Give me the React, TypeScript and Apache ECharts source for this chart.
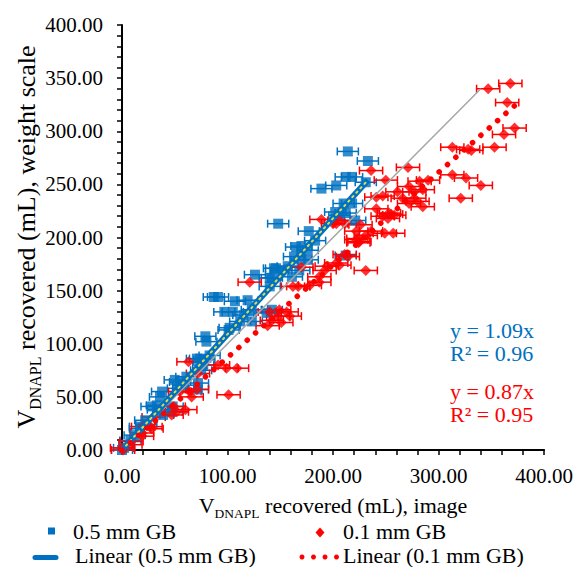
import React, { useEffect, useRef } from "react";
import * as echarts from "echarts";

const X_TICKS = [0, 100, 200, 300, 400];
const Y_TICKS = [0, 50, 100, 150, 200, 250, 300, 350, 400];

const BLUE_NAME = "0.5 mm GB";
const RED_NAME = "0.1 mm GB";
const BLUE_TREND_NAME = "Linear (0.5 mm GB)";
const RED_TREND_NAME = "Linear (0.1 mm GB)";

const BLUE_XERR = 10;
const RED_XERR = 11;

const BLUE_POINTS: number[][] = [
  [0, 0], [2, 2], [8, 9], [12, 14], [17, 20], [17, 22], [22, 28], [23, 24], [28, 41], [33, 42],
  [34, 38], [36, 50], [38, 55], [39, 33], [47, 36], [48, 41], [50, 66], [53, 58], [55, 64], [58, 61],
  [61, 69], [72, 57], [72, 63], [71, 86], [74, 86], [75, 75], [77, 80], [78, 85], [79, 107], [80, 102],
  [83, 89], [87, 144], [91, 144], [97, 130], [102, 115], [105, 130], [107, 140], [101, 113], [112, 121], [115, 127],
  [119, 141], [123, 132], [123, 121], [126, 165], [137, 129], [140, 154], [140, 162], [142, 132], [144, 171], [146, 171],
  [151, 169], [157, 173], [161, 163], [142, 162], [163, 182], [165, 191], [168, 169], [170, 179], [170, 192], [176, 179],
  [176, 188], [177, 206], [183, 197], [148, 213], [189, 246], [202, 224], [206, 221], [210, 232], [212, 183], [212, 223],
  [212, 257], [214, 281], [218, 257], [218, 232], [221, 216], [231, 252], [233, 272], [203, 249],
];

const RED_POINTS: number[][] = [
  [0, 2], [1, 0], [8, 5], [9, 8], [19, 13], [19, 16], [20, 22], [27, 22], [28, 20], [30, 31],
  [47, 33], [49, 41], [52, 36], [60, 38], [55, 55], [64, 55], [66, 50], [71, 57], [63, 83], [72, 72],
  [91, 80], [99, 77], [109, 77], [101, 52], [121, 158], [140, 130], [149, 132], [156, 130], [142, 122], [148, 126],
  [159, 126], [138, 117], [151, 120], [162, 154], [167, 154], [178, 155], [187, 158], [170, 172], [187, 163], [192, 169],
  [194, 173], [203, 176], [206, 174], [211, 184], [214, 182], [231, 169], [189, 217], [200, 213], [203, 213], [206, 216],
  [211, 213], [226, 212], [222, 206], [224, 199], [224, 195], [231, 202], [222, 198], [225, 196], [236, 206], [249, 204],
  [257, 204], [255, 222], [241, 227], [241, 238], [247, 220], [252, 218], [253, 223], [258, 221], [247, 239], [261, 243],
  [266, 237], [272, 248], [272, 232], [277, 243], [277, 237], [280, 234], [285, 245], [285, 229], [282, 253], [290, 254],
  [236, 263], [250, 254], [271, 266], [313, 259], [326, 256], [340, 249], [321, 237], [313, 285], [328, 283], [331, 282],
  [353, 285], [347, 340], [368, 345], [365, 327], [372, 303], [362, 297],
];

const ONE_TO_ONE: number[][] = [[0, 0], [340, 340]];
const BLUE_TREND: number[][] = [[0, 0], [233, 254]];
const RED_TREND: number[][] = [[0, 0], [372, 324]];

const BLUE = "#0070C0";
const RED = "#FF0000";
const FONT = "Liberation Serif";

function errorBarSeries(points: number[][], err: number, color: string) {
  return {
    type: "custom",
    silent: true,
    data: points.map((p) => [p[0], p[1], err]),
    renderItem: (_params: any, api: any) => {
      const x = api.value(0);
      const y = api.value(1);
      const e = api.value(2);
      const a = api.coord([x - e, y]);
      const b = api.coord([x + e, y]);
      const h = 4;
      const st = { stroke: color, lineWidth: 1.5 };
      return {
        type: "group",
        children: [
          { type: "line", shape: { x1: a[0], y1: a[1], x2: b[0], y2: b[1] }, style: st },
          { type: "line", shape: { x1: a[0], y1: a[1] - h, x2: a[0], y2: a[1] + h }, style: st },
          { type: "line", shape: { x1: b[0], y1: b[1] - h, x2: b[0], y2: b[1] + h }, style: st },
        ],
      };
    },
    z: 2,
  };
}

function label(text: string, x: number, y: number, fill: string) {
  return {
    type: "text",
    x,
    y,
    style: { text, fill, fontSize: 22, fontFamily: FONT, verticalAlign: "middle", lineHeight: 22 },
  };
}

export default function App() {
  const ref = useRef<HTMLDivElement>(null);
  useEffect(() => {
    if (!ref.current) return;
    const chart = echarts.init(ref.current, undefined, { renderer: "svg" });
    const axisCommon = {
      axisLine: { show: true, onZero: false, lineStyle: { color: "#000", width: 2 } },
      axisTick: { show: true, length: 5, lineStyle: { color: "#000", width: 1.5 } },
      minorTick: { show: true, splitNumber: 5, length: 5, lineStyle: { color: "#000", width: 1.5 } },
      splitLine: { show: false },
      minorSplitLine: { show: false },
    };
    chart.setOption({
      animation: false,
      backgroundColor: "#fff",
      textStyle: { fontFamily: FONT },
      grid: { left: 122, right: 31, top: 25, bottom: 117 },
      xAxis: {
        type: "value",
        min: X_TICKS[0],
        max: X_TICKS[X_TICKS.length - 1],
        interval: X_TICKS[1] - X_TICKS[0],
        ...axisCommon,
        axisLabel: {
          color: "#000",
          fontSize: 21,
          fontFamily: FONT,
          margin: 15,
          formatter: (v: number) => v.toFixed(2),
        },
      },
      yAxis: {
        type: "value",
        min: Y_TICKS[0],
        max: Y_TICKS[Y_TICKS.length - 1],
        interval: Y_TICKS[1] - Y_TICKS[0],
        ...axisCommon,
        axisLabel: {
          color: "#000",
          fontSize: 21,
          fontFamily: FONT,
          margin: 19,
          formatter: (v: number) => v.toFixed(2),
        },
      },
      series: [
        errorBarSeries(BLUE_POINTS, BLUE_XERR, BLUE),
        {
          name: BLUE_NAME,
          type: "scatter",
          data: BLUE_POINTS,
          symbol: "rect",
          symbolSize: 10,
          itemStyle: { color: BLUE },
          z: 3,
        },
        errorBarSeries(RED_POINTS, RED_XERR, RED),
        {
          name: RED_NAME,
          type: "scatter",
          data: RED_POINTS,
          symbol: "diamond",
          symbolSize: 11,
          itemStyle: { color: RED },
          z: 3,
        },
        {
          type: "line",
          data: ONE_TO_ONE,
          symbol: "none",
          lineStyle: { color: "#A6A6A6", width: 1.5 },
          z: 4,
        },
        {
          name: BLUE_TREND_NAME,
          type: "line",
          data: BLUE_TREND,
          symbol: "none",
          lineStyle: { color: BLUE, width: 6 },
          z: 5,
        },
        {
          type: "line",
          data: BLUE_TREND,
          symbol: "none",
          lineStyle: { color: "#DCDC50", width: 2, type: [1.5, 4.5], cap: "round" },
          z: 6,
        },
        {
          name: RED_TREND_NAME,
          type: "line",
          data: RED_TREND,
          symbol: "none",
          lineStyle: { color: RED, width: 5.5, type: [0.1, 11], cap: "round" },
          z: 6,
        },
      ],
      graphic: [
        {
          type: "text",
          x: 333,
          y: 505,
          style: {
            text: "{v|V}{s|DNAPL}{t| recovered (mL), image}",
            align: "center",
            verticalAlign: "middle",
            fill: "#000",
            rich: {
              v: { fontSize: 22, fontFamily: FONT, lineHeight: 30, verticalAlign: "middle" },
              s: { fontSize: 13.5, fontFamily: FONT, lineHeight: 13, verticalAlign: "bottom" },
              t: { fontSize: 22, fontFamily: FONT, lineHeight: 30, verticalAlign: "middle" },
            },
          },
        },
        {
          type: "text",
          x: 26,
          y: 237,
          rotation: Math.PI / 2,
          style: {
            text: "{v|V}{s|DNAPL}{t| recovered (mL), weight scale}",
            align: "center",
            verticalAlign: "middle",
            fill: "#000",
            rich: {
              v: { fontSize: 26, fontFamily: FONT, lineHeight: 34, verticalAlign: "middle" },
              s: { fontSize: 16, fontFamily: FONT, lineHeight: 15, verticalAlign: "bottom" },
              t: { fontSize: 26, fontFamily: FONT, lineHeight: 34, verticalAlign: "middle" },
            },
          },
        },
        label("y = 1.09x", 450, 330, BLUE),
        label("R² = 0.96", 450, 353, BLUE),
        label("y = 0.87x", 450, 391, RED),
        label("R² = 0.95", 450, 414, RED),
        // legend
        { type: "rect", shape: { x: 48, y: 527.5, width: 7, height: 7 }, style: { fill: BLUE } },
        label(BLUE_NAME, 73, 531, "#000"),
        { type: "polygon", shape: { points: [[320, 527.5], [324.5, 532.5], [320, 537.5], [315.5, 532.5]] }, style: { fill: RED } },
        label(RED_NAME, 343, 531, "#000"),
        { type: "line", shape: { x1: 35, y1: 557.5, x2: 56, y2: 557.5 }, style: { stroke: BLUE, lineWidth: 5, lineCap: "round" } },
        label(BLUE_TREND_NAME, 75, 555, "#000"),
        { type: "circle", shape: { cx: 302, cy: 557, r: 2.5 }, style: { fill: RED } },
        { type: "circle", shape: { cx: 313.5, cy: 557, r: 2.5 }, style: { fill: RED } },
        { type: "circle", shape: { cx: 325, cy: 557, r: 2.5 }, style: { fill: RED } },
        { type: "circle", shape: { cx: 336.5, cy: 557, r: 2.5 }, style: { fill: RED } },
        label(RED_TREND_NAME, 343, 555, "#000"),
      ],
    });
    return () => chart.dispose();
  }, []);
  return <div ref={ref} style={{ width: 576, height: 567, position: "absolute", left: 0, top: 0 }} />;
}
